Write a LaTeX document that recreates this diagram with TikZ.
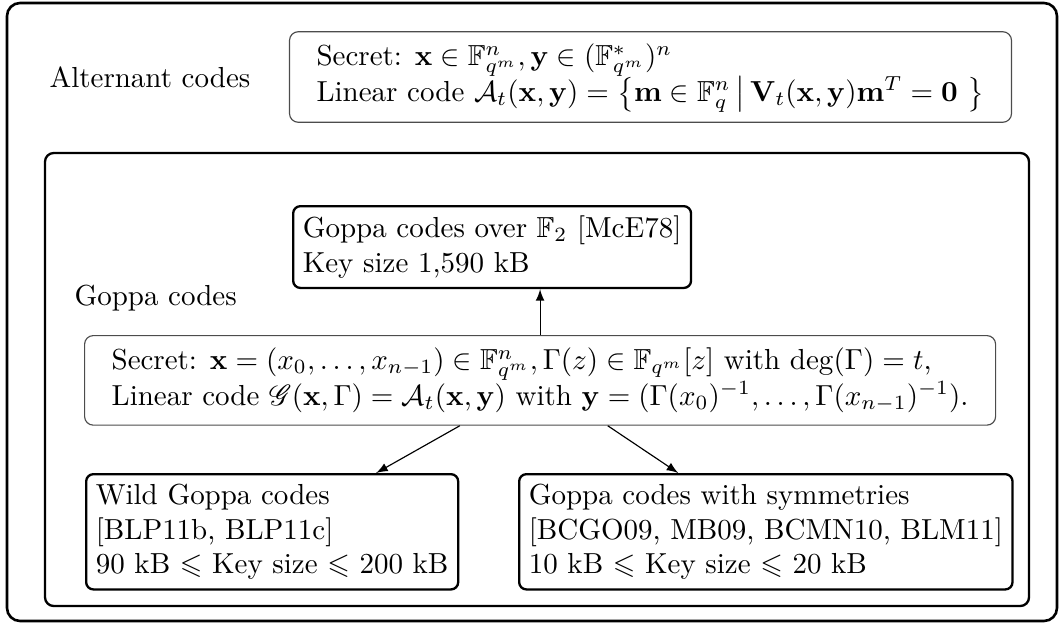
\documentclass[tikz,border=0pt]{standalone}
\usepackage{amsmath}
\usepackage{amssymb}
\usepackage{mathrsfs}
\usepackage{tikz}

\tikzset{
  secretbox/.style={draw=black!70, thin, rounded corners=3pt},
  codebox/.style={draw, thick, rounded corners=2.5pt, align=left},
  familylabel/.style={anchor=base west, inner sep=0pt},
}

\begin{document}
\begin{tikzpicture}[x=0.345pt, y=-0.345pt]
        \useasboundingbox (0,0) rectangle (1059,622);
        \draw[line width=0.9pt, rounded corners=4.5pt] (7,3) rectangle (1057,621);
        \draw[thick, rounded corners=3pt] (45,153) rectangle (1029,606);

        \node[familylabel] (altlabel) at (49,87) {Alternant codes};
        \node[secretbox] (alt) at (650.5,77) {\begin{tabular}{l}
            Secret: $\mathbf{x}\in\mathbb{F}_{q^m}^n, \mathbf{y}\in(\mathbb{F}_{q^m}^*)^n$\\
            Linear code $\mathcal{A}_t(\mathbf{x},\mathbf{y})=\left\{\mathbf{m}\in\mathbb{F}_q^n \,\middle|\, \mathbf{V}_t(\mathbf{x},\mathbf{y})\mathbf{m}^T=\mathbf{0}\ \right\}$
          \end{tabular}};

        \node[familylabel] (goppalabel) at (74,305) {Goppa codes};
        \node[codebox, anchor=north west] (mce) at (292,205) {Goppa codes over $\mathbb{F}_2$ [McE78]\\Key size 1,590 kB};
        \node[secretbox, anchor=north west] (goppa) at (84,335) {\begin{tabular}{l}
            Secret: $\mathbf{x}=(x_0,\ldots,x_{n-1})\in\mathbb{F}_{q^m}^n, \Gamma(z)\in\mathbb{F}_{q^m}[z]$ with $\deg(\Gamma)=t$,\\
            Linear code $\mathscr{G}(\mathbf{x},\Gamma)=\mathcal{A}_t(\mathbf{x},\mathbf{y})$ with $\mathbf{y}=(\Gamma(x_0)^{-1},\ldots,\Gamma(x_{n-1})^{-1})$.
          \end{tabular}};
        \node[codebox, anchor=north west] (wild) at (85,473) {Wild Goppa codes\\{}[BLP11b, BLP11c]\\90 kB $\leqslant$ Key size $\leqslant$ 200 kB};
        \node[codebox, anchor=north west] (symm) at (518,473) {Goppa codes with symmetries\\{}[BCGO09, MB09, BCMN10, BLM11]\\10 kB $\leqslant$ Key size $\leqslant$ 20 kB};

        %goppa>mce
        \draw[-latex] (goppa.north) -- (goppa.north |- mce.south);
        %goppa>wild
        \draw[-latex] (goppa) -- (wild);
        %goppa>symm
        \draw[-latex] (goppa) -- (symm);
        \end{tikzpicture}
\end{document}
